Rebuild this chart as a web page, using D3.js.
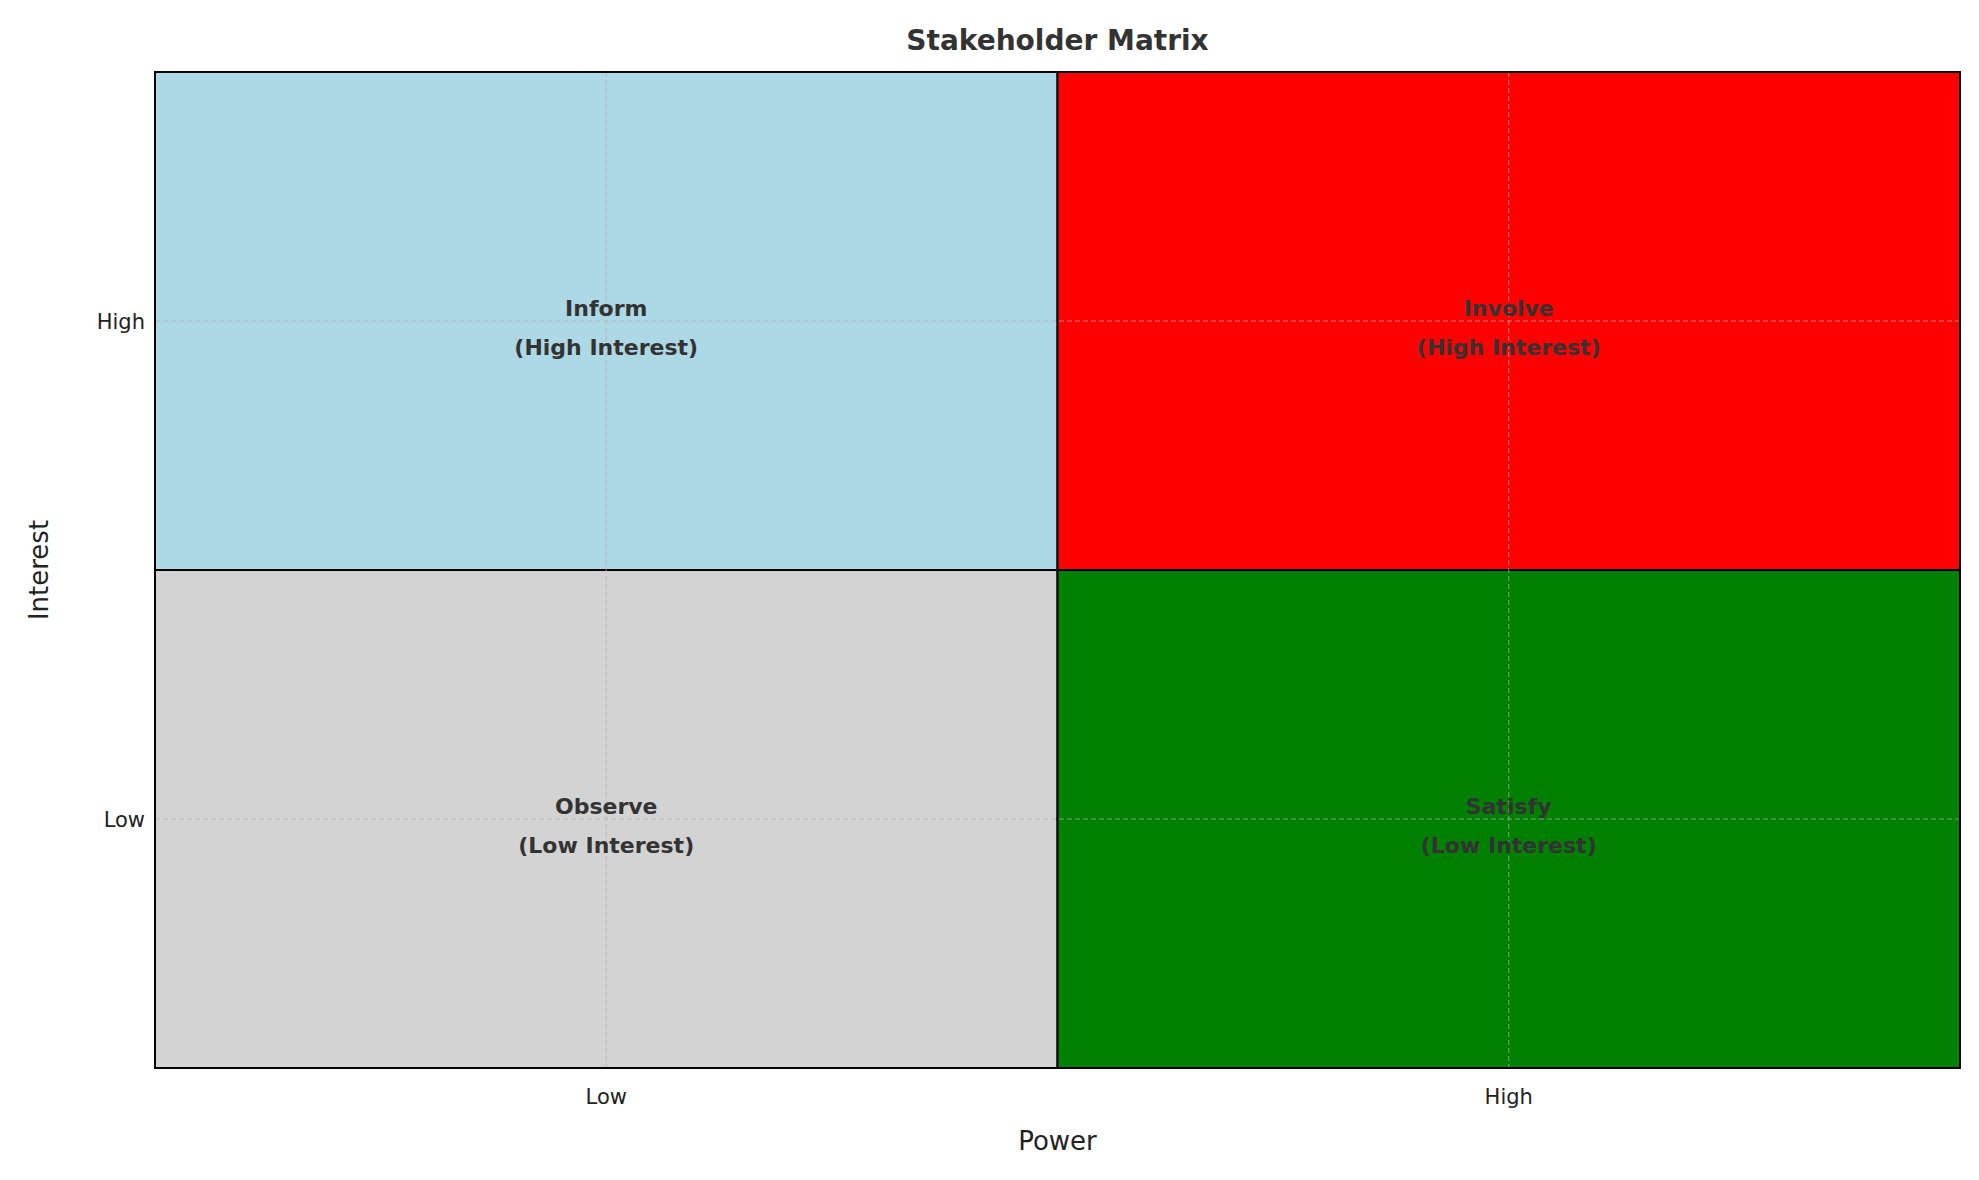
<!DOCTYPE html>
<html>
<head>
<meta charset="utf-8">
<script src="https://cdn.jsdelivr.net/npm/d3@7"></script>
<style>
  body { margin: 0; background: white; }
  text { font-family: "DejaVu Sans", sans-serif; }
</style>
</head>
<body>
<div id="viz-container"></div>
<script>
// data
let powerLevels = ["Low", "High"];
let interestLevels = ["Low", "High"];
let quadrantNames = ["Observe", "Satisfy", "Inform", "Involve"];
let quadrantPower = [0, 1, 0, 1];
let quadrantInterest = [0, 0, 1, 1];
let quadrantColors = ["lightgray", "green", "lightblue", "red"];
let interestNotes = ["(Low Interest)", "(Low Interest)", "(High Interest)", "(High Interest)"];

let W = 1979, H = 1180;
let mLeft = 155, mRight = 1960, mTop = 72, mBottom = 1068;

let viz = d3.select("#viz-container")
  .append("svg")
    .attr("width", W)
    .attr("height", H);

let x = d3.scaleLinear().domain([-0.5, 1.5]).range([mLeft, mRight]);
let y = d3.scaleLinear().domain([-0.5, 1.5]).range([mBottom, mTop]);

// quadrants
quadrantNames.forEach((name, i) => {
  viz.append("rect")
    .attr("x", x(quadrantPower[i] - 0.5))
    .attr("y", y(quadrantInterest[i] + 0.5))
    .attr("width", x(quadrantPower[i] + 0.5) - x(quadrantPower[i] - 0.5))
    .attr("height", y(quadrantInterest[i] - 0.5) - y(quadrantInterest[i] + 0.5))
    .attr("fill", quadrantColors[i])
    .attr("stroke", "black")
    .attr("stroke-width", 2);
});

// grid
[0, 1].forEach(v => {
  viz.append("line")
    .attr("x1", x(v)).attr("x2", x(v)).attr("y1", mTop).attr("y2", mBottom)
    .attr("stroke", "#b0b0b0").attr("stroke-opacity", 0.7)
    .attr("stroke-dasharray", "5,3").attr("stroke-width", 1);
  viz.append("line")
    .attr("y1", y(v)).attr("y2", y(v)).attr("x1", mLeft).attr("x2", mRight)
    .attr("stroke", "#b0b0b0").attr("stroke-opacity", 0.7)
    .attr("stroke-dasharray", "5,3").attr("stroke-width", 1);
});

// quadrant labels
quadrantNames.forEach((name, i) => {
  let t = viz.append("text")
    .attr("x", x(quadrantPower[i]))
    .attr("y", y(quadrantInterest[i]))
    .attr("text-anchor", "middle")
    .attr("font-size", 22)
    .attr("font-weight", "bold")
    .attr("fill", "#333333");
  t.append("tspan").attr("x", x(quadrantPower[i])).attr("dy", -5).text(name);
  t.append("tspan").attr("x", x(quadrantPower[i])).attr("dy", 39).text(interestNotes[i]);
});

// frame
viz.append("rect")
  .attr("x", mLeft).attr("y", mTop)
  .attr("width", mRight - mLeft).attr("height", mBottom - mTop)
  .attr("fill", "none").attr("stroke", "black").attr("stroke-width", 2);

// ticks
powerLevels.forEach((lab, i) => {
  viz.append("text")
    .attr("x", x(i)).attr("y", mBottom + 36)
    .attr("text-anchor", "middle").attr("font-size", 21).attr("fill", "#222")
    .text(lab);
});
interestLevels.forEach((lab, i) => {
  viz.append("text")
    .attr("x", mLeft - 10).attr("y", y(i) + 8)
    .attr("text-anchor", "end").attr("font-size", 21).attr("fill", "#222")
    .text(lab);
});

// axis titles
viz.append("text")
  .attr("x", (mLeft + mRight) / 2).attr("y", 1150)
  .attr("text-anchor", "middle").attr("font-size", 26).attr("fill", "#222")
  .text("Power");
viz.append("text")
  .attr("transform", `translate(48, ${(mTop + mBottom) / 2}) rotate(-90)`)
  .attr("text-anchor", "middle").attr("font-size", 26).attr("fill", "#222")
  .text("Interest");

// title
viz.append("text")
  .attr("x", (mLeft + mRight) / 2).attr("y", 50)
  .attr("text-anchor", "middle").attr("font-size", 28)
  .attr("font-weight", "bold").attr("fill", "#333")
  .text("Stakeholder Matrix");
</script>
</body>
</html>
